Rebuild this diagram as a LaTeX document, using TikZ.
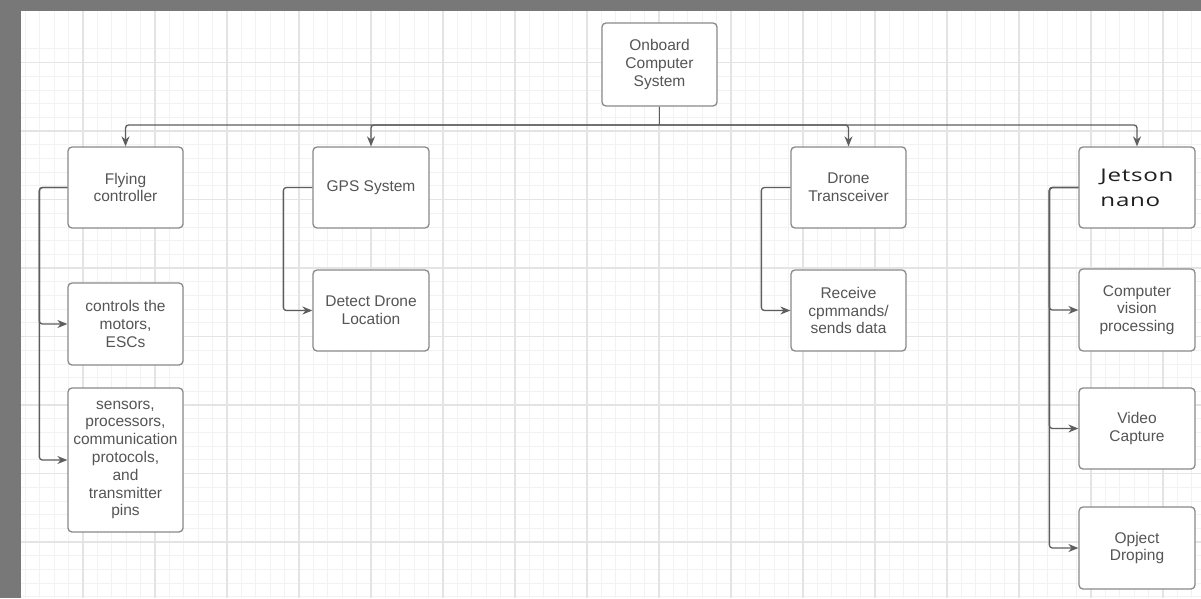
\documentclass[tikz,border=0pt]{standalone}
\usepackage{fontspec}
\usepackage{graphicx}
\setmainfont{Liberation Sans}
\newfontfamily\jfont[LetterSpace=3]{Open Sans}
\usetikzlibrary{arrows.meta}
\definecolor{bgray}{HTML}{787878}
\definecolor{gmin}{HTML}{F2F2F2}
\definecolor{gmaj}{HTML}{E4E4E4}
\definecolor{bord}{HTML}{8A8A8A}
\definecolor{txt}{HTML}{555555}
\definecolor{lin}{HTML}{5E5E5E}
\tikzset{
  box/.style={draw=bord, line width=1.3pt, rounded corners=4pt, fill=white,
    text=txt, font=\fontsize{15.5}{17.8}\selectfont, align=center,
    inner sep=1pt, minimum width=115pt},
  conn/.style={draw=lin, line width=1.3pt, rounded corners=3pt,
    -{Stealth[length=10pt,width=8pt]}},
  plainconn/.style={draw=lin, line width=1.3pt, rounded corners=3pt},
  gridmin/.style={draw=gmin, line width=0.7pt},
  gridmaj/.style={draw=gmaj, line width=1.1pt}
}
\begin{document}
\begin{tikzpicture}[x=1pt,y=-1pt]
\useasboundingbox (0,0) rectangle (1201,598);
\fill[bgray] (0,0) rectangle (1201,598);
\fill[white] (21,11) rectangle (1201,598);
\begin{scope}
\clip (21,11) rectangle (1201,598);
\foreach \i in {0,...,84} {\draw[gridmin] ({11+14.4*\i},11) -- ({11+14.4*\i},598);}
\foreach \i in {-1,...,44} {\draw[gridmin] (21,{62.5+13.7*\i}) -- (1201,{62.5+13.7*\i});}
\foreach \i in {0,...,17} {\draw[gridmaj] ({11+72*\i},11) -- ({11+72*\i},598);}
\foreach \i in {-1,...,8} {\draw[gridmaj] (21,{62.5+68.5*\i}) -- (1201,{62.5+68.5*\i});}
\end{scope}

\node[box, minimum height=83pt] (onb) at (659.5,64.5) {Onboard\\Computer\\System};

\node[box, minimum height=81pt] (fc) at (125.5,187.5) {Flying\\controller};
\node[box, minimum height=82pt] (ctl) at (125.5,324) {controls the\\motors,\\ESCs};
\node[box, minimum height=144pt] (sen) at (125.5,460) {sensors,\\processors,\\communication\\protocols,\\and\\transmitter\\pins};

\node[box, minimum width=116pt, minimum height=81pt] (gps) at (371,187.5) {GPS System};
\node[box, minimum width=116pt, minimum height=81pt] (det) at (371,310.5) {Detect Drone\\Location};

\node[box, minimum height=81pt] (trx) at (848.5,187.5) {Drone\\Transceiver};
\node[box, minimum height=81pt] (rcv) at (848.5,310.5) {Receive\\cpmmands/\\sends data};

\node[box, minimum width=116pt, minimum height=81pt, align=left, text=black!88,
  font=\jfont\fontsize{17.5}{25}\selectfont] (jet) at (1137,187.5)
  {\raisebox{-4pt}{\scalebox{1.38}[1]{Jetson}}\\\raisebox{-4pt}{\scalebox{1.38}[1]{nano}}};
\node[box, minimum width=116pt, minimum height=82pt] (cv) at (1137,310) {Computer\\vision\\processing};
\node[box, minimum width=116pt, minimum height=81pt] (vid) at (1137,428.5) {Video\\Capture};
\node[box, minimum width=116pt, minimum height=82pt] (obj) at (1137,548) {Opject\\Droping};

\coordinate (bus) at (659.5,125);
\draw[plainconn] (onb.south) -- (bus);
\draw[conn] (bus) -| (fc.north);
\draw[conn] (bus) -| (gps.north);
\draw[conn] (bus) -| (trx.north);
\draw[conn] (bus) -| (jet.north);

\draw[conn] (fc.west) -- ++(-28,0) |- (ctl.west);
\draw[conn] (fc.west) -- ++(-28,0) |- (sen.west);
\draw[conn] (gps.west) -- ++(-29,0) |- (det.west);
\draw[conn] (trx.west) -- ++(-29,0) |- (rcv.west);
\draw[conn] (jet.west) -- ++(-29,0) |- (cv.west);
\draw[conn] (jet.west) -- ++(-29,0) |- (vid.west);
\draw[conn] (jet.west) -- ++(-29,0) |- (obj.west);
\end{tikzpicture}
\end{document}
